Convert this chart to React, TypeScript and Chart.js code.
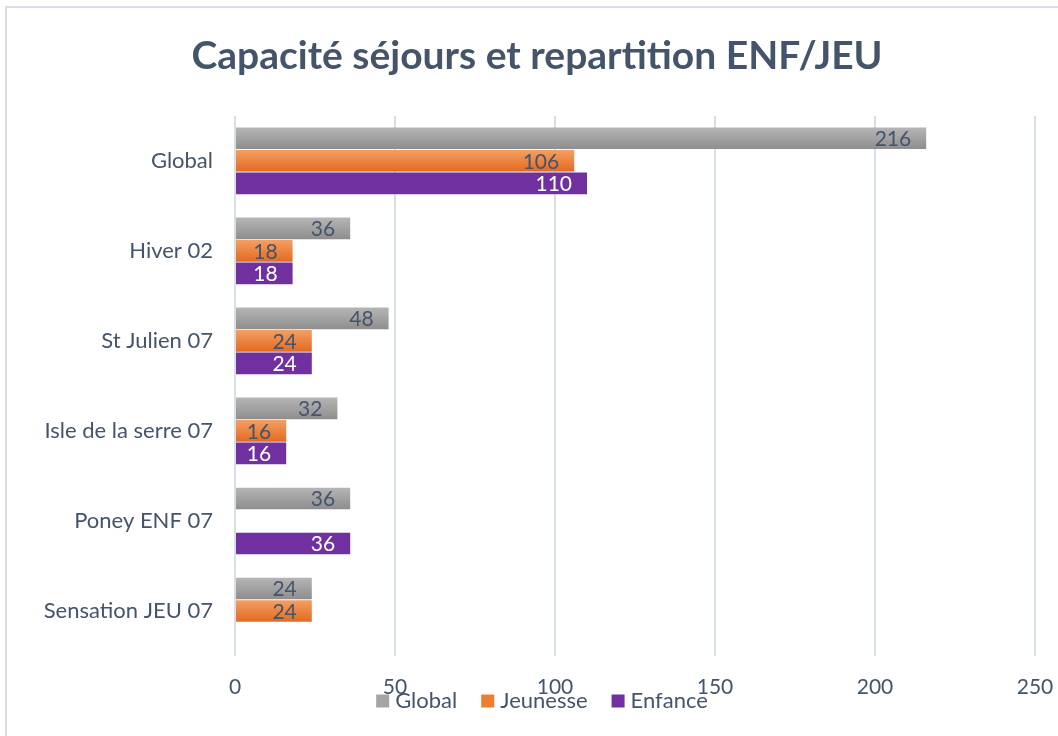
import React, { useEffect, useRef } from "react";
import { Chart, registerables } from "chart.js";

Chart.register(...registerables);

const titleText = "Capacité séjours et repartition ENF/JEU";
const categories = [
  "Global",
  "Hiver 02",
  "St Julien 07",
  "Isle de la serre 07",
  "Poney ENF 07",
  "Sensation JEU 07",
];
const seriesNames = ["Global", "Jeunesse", "Enfance"];
const globalValues = [216, 36, 48, 32, 36, 24];
const jeunesseValues: (number | null)[] = [106, 18, 24, 16, null, 24];
const enfanceValues: (number | null)[] = [110, 18, 24, 16, 36, null];
const xTicks = [0, 50, 100, 150, 200, 250];

const TEXT = "#44546a";
const FONT = "Lato, 'Open Sans', sans-serif";
const CAT_PCT = 0.75;
const BAR_PCT = 0.96;

const gradStops = [
  ["#b6b6b6", "#8d8d8d"],
  ["#f4a064", "#e2691f"],
  ["#7030a0", "#7030a0"],
];
const legendColors = ["#a5a5a5", "#ed7d31", "#7030a0"];
const labelColors = [TEXT, TEXT, "#ffffff"];

function barGradient(dsIndex: number) {
  return (ctx: any) => {
    const chart = ctx.chart;
    const y = chart.scales?.y;
    if (!y || !chart.chartArea || ctx.type !== "data") return gradStops[dsIndex][0];
    const n = chart.data.datasets.length;
    const cat = y.height / chart.data.labels.length;
    const center = y.getPixelForValue(ctx.dataIndex);
    const slot = (cat * CAT_PCT) / n;
    const top = center - (cat * CAT_PCT) / 2 + dsIndex * slot;
    const g = chart.ctx.createLinearGradient(0, top, 0, top + slot);
    g.addColorStop(0, gradStops[dsIndex][0]);
    g.addColorStop(1, gradStops[dsIndex][1]);
    return g;
  };
}

const framePlugin = {
  id: "frame",
  beforeDraw(chart: any) {
    const c = chart.ctx;
    c.save();
    c.fillStyle = "#ffffff";
    c.fillRect(0, 0, chart.width, chart.height);
    c.strokeStyle = "#d9dee6";
    c.lineWidth = 2;
    c.strokeRect(6, 7, chart.width + 20, chart.height + 20);
    c.restore();
  },
};

const labelPlugin = {
  id: "barLabels",
  afterDatasetsDraw(chart: any) {
    const c = chart.ctx;
    c.save();
    c.font = `21px ${FONT}`;
    c.textAlign = "right";
    c.textBaseline = "middle";
    chart.data.datasets.forEach((ds: any, di: number) => {
      const meta = chart.getDatasetMeta(di);
      meta.data.forEach((el: any, i: number) => {
        const v = ds.data[i];
        if (v === null || v === undefined) return;
        c.fillStyle = labelColors[di];
        c.fillText(String(v), el.x - 15, el.y + 1);
      });
    });
    c.restore();
  },
};

const legendPlugin = {
  id: "customLegend",
  afterDraw(chart: any) {
    const c = chart.ctx;
    c.save();
    c.font = `22px ${FONT}`;
    c.textBaseline = "middle";
    c.textAlign = "left";
    const box = 13;
    const gapBox = 6;
    const gapItem = 24;
    const widths = seriesNames.map((s) => box + gapBox + c.measureText(s).width);
    const total = widths.reduce((a, b) => a + b, 0) + gapItem * (widths.length - 1);
    let x = 542 - total / 2;
    const y = 701;
    seriesNames.forEach((s, i) => {
      c.fillStyle = legendColors[i];
      c.fillRect(x, y - box / 2, box, box);
      c.fillStyle = TEXT;
      c.fillText(s, x + box + gapBox, y);
      x += widths[i] + gapItem;
    });
    c.restore();
  },
};

export default function App() {
  const ref = useRef<HTMLCanvasElement | null>(null);
  useEffect(() => {
    document.body.style.margin = "0";
    const canvas = ref.current;
    if (!canvas) return;
    const values = [globalValues, jeunesseValues, enfanceValues];
    const chart = new Chart(canvas, {
      type: "bar",
      data: {
        labels: categories,
        datasets: seriesNames.map((name, i) => ({
          label: name,
          data: values[i],
          backgroundColor: barGradient(i),
          borderWidth: 0,
          categoryPercentage: CAT_PCT,
          barPercentage: BAR_PCT,
        })),
      },
      options: {
        indexAxis: "y",
        animation: false,
        responsive: false,
        maintainAspectRatio: false,
        layout: { padding: { left: 16, right: 0, top: 0, bottom: 0 } },
        plugins: {
          legend: { display: false },
          tooltip: { enabled: false },
          title: {
            display: true,
            text: titleText,
            color: TEXT,
            font: { family: FONT, size: 39, weight: "bold" },
            padding: { top: 33, bottom: 36 },
          },
        },
        scales: {
          x: {
            min: 0,
            max: 250,
            afterBuildTicks: (scale: any) => {
              scale.ticks = xTicks.map((v) => ({ value: v }));
            },
            afterFit: (scale: any) => {
              scale.height = 80;
            },
            grid: {
              color: "#dadfe7",
              lineWidth: 2,
              drawTicks: true,
              tickLength: 19,
              tickColor: "rgba(0,0,0,0)",
            },
            border: { display: false },
            ticks: {
              color: TEXT,
              font: { family: FONT, size: 21 },
              padding: 0,
            },
          },
          y: {
            afterFit: (scale: any) => {
              scale.width = 219;
            },
            grid: { display: false, drawTicks: false },
            border: { display: false },
            ticks: {
              color: TEXT,
              font: { family: FONT, size: 22 },
              padding: 22,
            },
          },
          y2: {
            type: "linear",
            position: "right",
            display: true,
            afterFit: (scale: any) => {
              scale.width = 23;
            },
            grid: { display: false, drawTicks: false },
            border: { display: false },
            ticks: { display: false },
          },
        },
      } as any,
      plugins: [framePlugin, labelPlugin, legendPlugin],
    });
    return () => chart.destroy();
  }, []);
  return (
    <div style={{ width: 1058, height: 736 }}>
      <canvas ref={ref} width={1058} height={736} style={{ display: "block" }} />
    </div>
  );
}
